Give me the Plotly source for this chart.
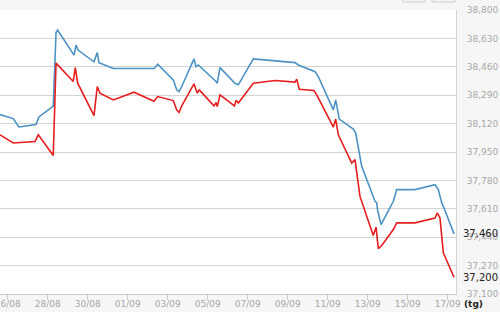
import plotly.graph_objects as go

blue_t = ["2013-08-25 14:00", "2013-08-26 06:40", "2013-08-26 13:30", "2013-08-27 10:00", "2013-08-27 13:30",
          "2013-08-28 06:40", "2013-08-28 10:00", "2013-08-28 11:50", "2013-08-29 07:35", "2013-08-29 10:00",
          "2013-08-29 12:25", "2013-08-30 07:35", "2013-08-30 11:30", "2013-08-30 13:35", "2013-08-31 06:45",
          "2013-09-02 07:55", "2013-09-02 12:00", "2013-09-03 06:40", "2013-09-03 10:50", "2013-09-03 13:35",
          "2013-09-03 16:50", "2013-09-04 07:35", "2013-09-04 10:00", "2013-09-04 12:45", "2013-09-05 10:00",
          "2013-09-05 11:30", "2013-09-05 14:45", "2013-09-06 06:25", "2013-09-06 08:45", "2013-09-06 12:45",
          "2013-09-07 06:45", "2013-09-09 08:45", "2013-09-09 12:45", "2013-09-10 08:45", "2013-09-10 12:45",
          "2013-09-11 06:45", "2013-09-11 09:35", "2013-09-11 13:55", "2013-09-12 06:45", "2013-09-12 09:35",
          "2013-09-12 16:50", "2013-09-13 08:45", "2013-09-13 10:50", "2013-09-13 11:45", "2013-09-13 16:00",
          "2013-09-14 06:45", "2013-09-14 10:50", "2013-09-15 08:45", "2013-09-16 08:45", "2013-09-16 12:45",
          "2013-09-16 16:50", "2013-09-16 19:35", "2013-09-17 07:35"]
blue_v = [38175, 38150, 38100, 38115, 38160,
          38225, 38665, 38680, 38530, 38590,
          38560, 38490, 38545, 38485, 38450,
          38450, 38476, 38382, 38322, 38312,
          38342, 38507, 38461, 38471, 38372,
          38362, 38455, 38370, 38361, 38352,
          38507, 38485, 38471, 38431, 38401,
          38202, 38262, 38147, 38087, 38063,
          37864, 37655, 37647, 37605, 37515,
          37655, 37725, 37725, 37754, 37725,
          37645, 37615, 37460]

red_t = ["2013-08-25 14:00", "2013-08-26 06:40", "2013-08-27 08:45", "2013-08-27 12:45", "2013-08-28 06:40",
         "2013-08-28 10:00", "2013-08-29 06:40", "2013-08-29 09:05", "2013-08-29 12:00", "2013-08-30 07:35",
         "2013-08-30 11:30", "2013-08-30 14:45", "2013-08-31 06:45", "2013-09-01 07:35", "2013-09-02 07:35",
         "2013-09-02 12:00", "2013-09-03 06:40", "2013-09-03 10:50", "2013-09-03 13:35", "2013-09-03 16:50",
         "2013-09-04 07:35", "2013-09-04 11:30", "2013-09-04 13:55", "2013-09-05 07:35", "2013-09-05 10:00",
         "2013-09-05 11:30", "2013-09-05 14:45", "2013-09-06 08:10", "2013-09-06 10:00", "2013-09-06 12:45",
         "2013-09-07 06:45", "2013-09-08 08:45", "2013-09-09 08:45", "2013-09-09 10:50", "2013-09-09 13:55",
         "2013-09-10 07:35", "2013-09-10 10:50", "2013-09-11 06:45", "2013-09-11 09:35", "2013-09-11 12:45",
         "2013-09-12 04:50", "2013-09-12 08:45", "2013-09-12 14:45", "2013-09-13 06:40", "2013-09-13 10:00",
         "2013-09-13 12:45", "2013-09-13 16:50", "2013-09-14 06:45", "2013-09-14 10:50", "2013-09-15 08:45",
         "2013-09-16 08:45", "2013-09-16 11:30", "2013-09-16 14:45", "2013-09-16 18:45", "2013-09-17 07:35"]
red_v = [38055, 38004, 38013, 38053, 37929,
         38482, 38372, 38455, 38362, 38168,
         38342, 38302, 38262, 38308, 38254,
         38282, 38258, 38202, 38186, 38226,
         38358, 38302, 38322, 38226, 38246,
         38222, 38292, 38226, 38259, 38244,
         38362, 38378, 38368, 38386, 38326,
         38318, 38292, 38099, 38147, 38053,
         37884, 37904, 37684, 37450, 37500,
         37372, 37390, 37486, 37526, 37526,
         37555, 37585, 37555, 37346, 37200]

x_ticks = ["2013-08-26", "2013-08-28", "2013-08-30", "2013-09-01", "2013-09-03", "2013-09-05",
           "2013-09-07", "2013-09-09", "2013-09-11", "2013-09-13", "2013-09-15", "2013-09-17"]
x_tick_text = ["26/08", "28/08", "30/08", "01/09", "03/09", "05/09",
               "07/09", "09/09", "11/09", "13/09", "15/09", "17/09"]
y_ticks = [37100, 37270, 37440, 37610, 37780, 37950, 38120, 38290, 38460, 38630, 38800]
last_labels = ["37,460", "37,200"]
last_values = [37460, 37200]
unit_label = "(tg)"

FONT = "DejaVu Sans"
fig = go.Figure()
fig.add_trace(go.Scatter(x=blue_t, y=blue_v, mode="lines",
                         line=dict(color="#4a93c4", width=1.6), hoverinfo="skip"))
fig.add_trace(go.Scatter(x=red_t, y=red_v, mode="lines",
                         line=dict(color="#e61e1e", width=1.6), hoverinfo="skip"))

for txt, val in zip(last_labels, last_values):
    fig.add_annotation(x=1, xref="paper", y=val, yref="y", text=txt, showarrow=False,
                       xanchor="left", xshift=5, font=dict(family=FONT, size=10, color="#222222"))
fig.add_annotation(x=1, xref="paper", y=0, yref="paper", text="<b>" + unit_label + "</b>", showarrow=False,
                   xanchor="left", yanchor="top", xshift=6, yshift=-3,
                   font=dict(family=FONT, size=9, color="#222222"))

# cut-off buttons at the top edge
for x0, x1 in [(403, 425), (432, 455)]:
    fig.add_shape(type="rect", xref="paper", yref="paper",
                  x0=x0 / 456, x1=x1 / 456, y0=(294 - 2) / 284, y1=(294 + 8) / 284,
                  line=dict(color="#d0d0d0", width=1), fillcolor="#f2f2f2", layer="above")

fig.update_layout(
    width=500, height=312,
    margin=dict(l=0, r=44, t=10, b=18, autoexpand=False),
    paper_bgcolor="#f6f6f6", plot_bgcolor="#ffffff",
    showlegend=False,
    xaxis=dict(type="date", range=["2013-08-25 14:46", "2013-09-17 09:58"],
               tickvals=x_ticks, ticktext=x_tick_text, automargin=False,
               showgrid=False, showline=True, linecolor="#c2cad8", linewidth=1,
               ticks="outside", ticklen=5, tickcolor="#cccccc",
               ticklabelstandoff=-4, ticklabeloverflow="allow",
               tickfont=dict(family=FONT, size=9, color="#a8a8a8"), fixedrange=True),
    yaxis=dict(side="right", range=[37100, 38800], tickvals=y_ticks, tickformat=",d",
               automargin=False,
               showgrid=True, gridcolor="#d4d4d4", gridwidth=1,
               showline=True, linecolor="#d4d4d4", linewidth=1,
               ticks="", ticklabelstandoff=8, ticklabeloverflow="allow",
               tickfont=dict(family=FONT, size=9, color="#a8a8a8"), fixedrange=True),
)

fig.write_html("out.html")
